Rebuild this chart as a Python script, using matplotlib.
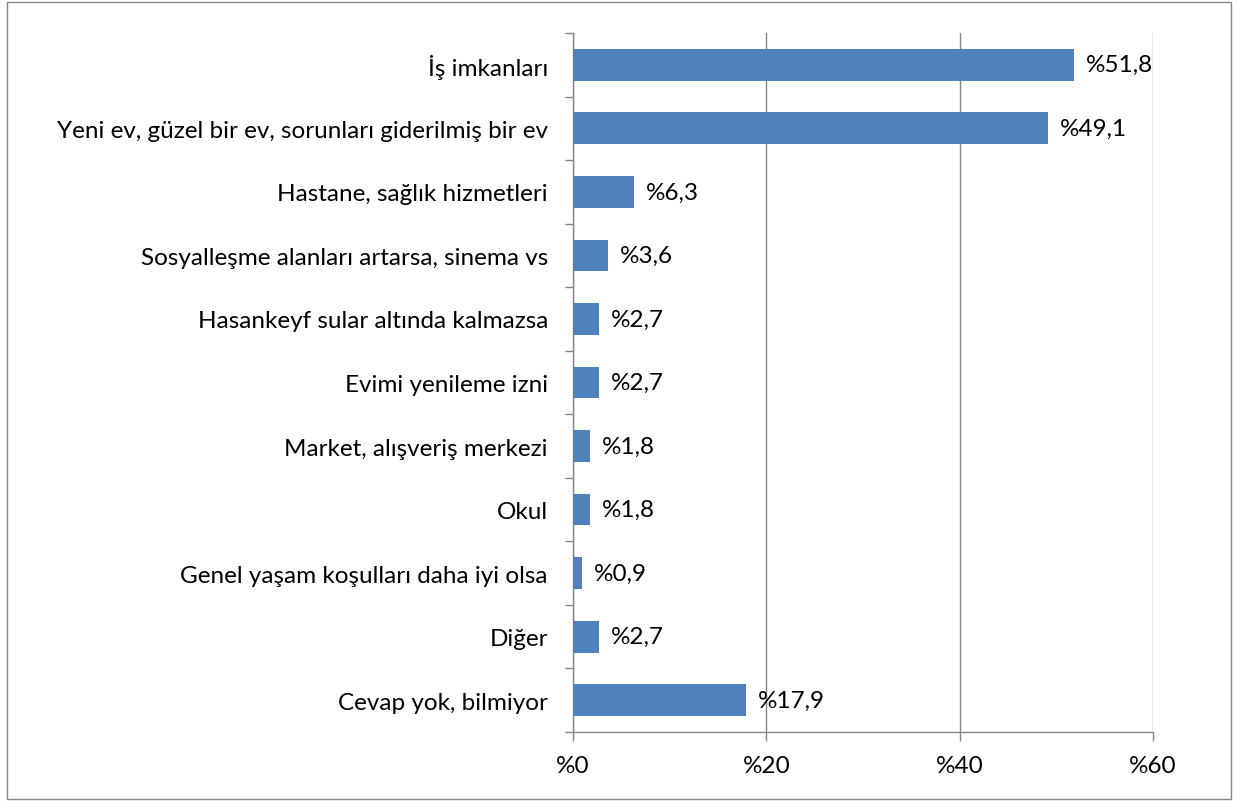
import matplotlib
matplotlib.use("Agg")
import matplotlib.pyplot as plt
from matplotlib.patches import Rectangle

categories = [
    "İş imkanları",
    "Yeni ev, güzel bir ev, sorunları giderilmiş bir ev",
    "Hastane, sağlık hizmetleri",
    "Sosyalleşme alanları artarsa, sinema vs",
    "Hasankeyf sular altında kalmazsa",
    "Evimi yenileme izni",
    "Market, alışveriş merkezi",
    "Okul",
    "Genel yaşam koşulları daha iyi olsa",
    "Diğer",
    "Cevap yok, bilmiyor",
]
values = [51.8, 49.1, 6.3, 3.6, 2.7, 2.7, 1.8, 1.8, 0.9, 2.7, 17.9]
xticks = [0, 20, 40, 60]

plt.rcParams["font.family"] = ["Lato", "DejaVu Sans"]
grey = "#868686"
blue = "#4F81BD"
fs = 17.5

fig = plt.figure(figsize=(12.36, 8.03), dpi=100)
ax = fig.add_axes([573 / 1236, 1 - 733 / 803, 580 / 1236, 699 / 803])

n = len(categories)
ypos = list(range(n))
ax.barh(ypos, values, height=0.5, color=blue, zorder=3)
ax.set_ylim(n - 0.5, -0.5)
ax.set_xlim(0, 60)

for y, v in zip(ypos, values):
    ax.annotate(f"%{v:.1f}".replace(".", ","), xy=(v, y), xytext=(8.5, 0),
                textcoords="offset points", va="center", ha="left", fontsize=fs)

ax.set_yticks([i - 0.5 for i in range(n + 1)], minor=False)
ax.set_yticklabels([])
ax.set_yticks(ypos, minor=True)
ax.set_yticklabels(categories, minor=True, fontsize=fs)
ax.tick_params(axis="y", which="major", length=6, color=grey, width=1)
ax.tick_params(axis="y", which="minor", length=0, pad=18)

ax.set_xticks(xticks)
ax.set_xticklabels([f"%{t}" for t in xticks], fontsize=fs)
ax.tick_params(axis="x", length=6.5, color=grey, width=1, pad=10)
ax.grid(axis="x", color=grey, lw=1, zorder=0)

for s in ["top", "right"]:
    ax.spines[s].set_visible(False)
for s in ["left", "bottom"]:
    ax.spines[s].set_color(grey)
    ax.spines[s].set_linewidth(1)

fig.patches.append(Rectangle((7 / 1236, 3 / 803), 1224 / 1236, 797 / 803,
                             transform=fig.transFigure, fill=False,
                             edgecolor=grey, lw=1))

fig.savefig("out.png", dpi=100)
